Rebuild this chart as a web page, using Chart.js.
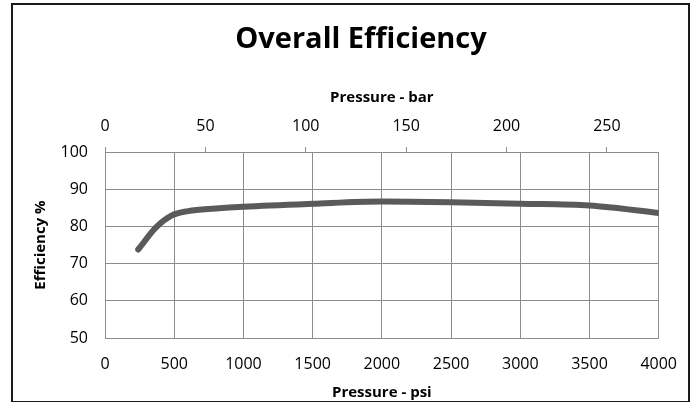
<!DOCTYPE html>
<html>
<head>
<meta charset="utf-8">
<script src="https://cdn.jsdelivr.net/npm/chart.js@4.4.1/dist/chart.umd.min.js"></script>
<style>
  body { margin: 0; background: #fff; }
  #wrap { position: relative; width: 694px; height: 402px; }
  #frame { position: absolute; left: 11px; top: 3px; width: 675px; height: 396px; border: 2px solid #1a1a1a; pointer-events: none; }
</style>
</head>
<body>
<div id="wrap">
  <canvas id="effChart"></canvas>
  <div id="frame"></div>
</div>
<script>
// values
const pressurePsi = [240, 370, 480, 600, 800, 1000, 1500, 2000, 2500, 3000, 3500, 4000]
const efficiency = [73.8, 79.8, 82.9, 84.1, 84.8, 85.3, 86.1, 86.7, 86.5, 86.1, 85.6, 83.6]
const barTicks = [0, 50, 100, 150, 200, 250]
const PSI_PER_BAR = 14.5038

const gridColor = "#8c8c8c"
const FONT = "'Open Sans', sans-serif"
const tickFont = { family: FONT, size: 16 }
const axisTitleFont = { family: FONT, size: 15, weight: "bold" }

// chart title, centred over the frame rather than the chart area
const chartTitle = {
  id: "chartTitle",
  afterDraw(chart) {
    const c = chart.ctx
    c.save()
    c.font = "bold 29px " + FONT
    c.fillStyle = "#000"
    c.textAlign = "center"
    c.textBaseline = "alphabetic"
    c.fillText("Overall Efficiency", 361, 48)
    c.restore()
  },
}

const ctx = document.getElementById("effChart")
new Chart(ctx, {
  type: "scatter",
  data: {
    datasets: [
      {
        label: "Overall Efficiency",
        data: pressurePsi.map((p, i) => ({ x: p, y: efficiency[i] })),
        showLine: true,
        borderColor: "#5a5a5a",
        borderWidth: 6,
        borderCapStyle: "round",
        cubicInterpolationMode: "monotone",
        pointRadius: 0,
        xAxisID: "x",
      },
    ],
  },
  plugins: [chartTitle],
  options: {
    responsive: true,
    maintainAspectRatio: false,
    animation: false,
    layout: { padding: { left: 0, right: 33, top: 0, bottom: 0 } },
    plugins: {
      legend: { display: false },
      tooltip: { enabled: false },
    },
    scales: {
      x: {
        type: "linear",
        position: "bottom",
        min: 0,
        max: 4000,
        ticks: { stepSize: 500, color: "#000", font: tickFont, padding: 17, maxRotation: 0, callback: (v) => String(v) },
        grid: { color: gridColor, drawTicks: false },
        border: { color: gridColor },
        title: { display: true, text: "Pressure - psi", color: "#000", font: axisTitleFont, padding: { top: 0, bottom: 0 } },
        afterFit: (scale) => { scale.height = 64 },
      },
      x2: {
        type: "linear",
        position: "top",
        min: 0,
        max: 4000 / PSI_PER_BAR,
        afterBuildTicks: (scale) => {
          scale.ticks = barTicks.map((v) => ({ value: v }))
        },
        ticks: { color: "#000", font: tickFont, padding: 11, maxRotation: 0, callback: (v) => String(v) },
        grid: { color: gridColor, drawOnChartArea: false, drawTicks: true, tickLength: 5 },
        border: { display: false },
        title: { display: true, text: "Pressure - bar", color: "#000", font: axisTitleFont, padding: { top: 89, bottom: 0 } },
        afterFit: (scale) => { scale.height = 152 },
      },
      y: {
        min: 50,
        max: 100,
        ticks: { stepSize: 10, color: "#000", font: tickFont, padding: 17 },
        grid: { color: gridColor, drawTicks: false },
        border: { color: gridColor },
        title: { display: true, text: "Efficiency %", color: "#000", font: axisTitleFont, padding: { top: 32, bottom: 0 } },
        afterFit: (scale) => { scale.width = 105 },
      },
    },
  },
})
</script>
</body>
</html>
